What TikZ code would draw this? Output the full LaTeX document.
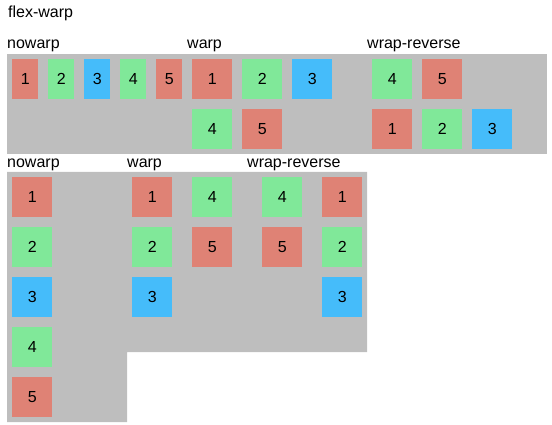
\documentclass[tikz,border=0pt]{standalone}
\usepackage{fontspec}
\setmainfont{Liberation Sans}
\definecolor{boxred}{RGB}{223,130,117}
\definecolor{boxgreen}{RGB}{128,232,153}
\definecolor{boxblue}{RGB}{69,188,250}
\definecolor{panelgray}{RGB}{190,190,190}

\tikzset{
  item/.style={fill=#1, minimum width=40pt, minimum height=40pt, inner sep=0pt,
    anchor=north west, font=\fontsize{16}{16}\selectfont},
  caption/.style={anchor=base west, inner sep=0pt, font=\fontsize{16}{16}\selectfont},
}

\begin{document}
\begin{tikzpicture}[x=1pt,y=-1pt]
  \useasboundingbox (0,0) rectangle (552,425);

  % Gray containers
  \fill[panelgray] (7,54) rectangle (547,154);
  \fill[panelgray] (7,172) -- (367,172) -- (367,352) -- (127,352)
    -- (127,422) -- (7,422) -- cycle;

  % Titles
  \node[caption] (title) at (8,17.5) {flex-warp};
  \node[caption] (rno) at (7,49) {nowarp};
  \node[caption] (rwa) at (187,49) {warp};
  \node[caption] (rre) at (367,49) {wrap-reverse};
  \node[caption] (cno) at (7,167.5) {nowarp};
  \node[caption] (cwa) at (127,167.5) {warp};
  \node[caption] (cre) at (247,167.5) {wrap-reverse};

  % Row direction, nowrap (items shrink)
  \foreach \n/\c [count=\i from 0] in {1/boxred,2/boxgreen,3/boxblue,4/boxgreen,5/boxred}
    \node[item=\c, minimum width=26pt] (rno\n) at ({12+36*\i},59) {\n};

  % Row direction, wrap
  \foreach \n/\x/\y/\c in {1/192/59/boxred,2/242/59/boxgreen,3/292/59/boxblue,
                          4/192/109/boxgreen,5/242/109/boxred}
    \node[item=\c] (rwa\n) at (\x,\y) {\n};

  % Row direction, wrap-reverse
  \foreach \n/\x/\y/\c in {4/372/59/boxgreen,5/422/59/boxred,
                          1/372/109/boxred,2/422/109/boxgreen,3/472/109/boxblue}
    \node[item=\c] (rre\n) at (\x,\y) {\n};

  % Column direction, nowrap
  \foreach \n/\c [count=\i from 0] in {1/boxred,2/boxgreen,3/boxblue,4/boxgreen,5/boxred}
    \node[item=\c] (cno\n) at (12,{177+50*\i}) {\n};

  % Column direction, wrap
  \foreach \n/\x/\y/\c in {1/132/177/boxred,2/132/227/boxgreen,3/132/277/boxblue,
                          4/192/177/boxgreen,5/192/227/boxred}
    \node[item=\c] (cwa\n) at (\x,\y) {\n};

  % Column direction, wrap-reverse
  \foreach \n/\x/\y/\c in {1/322/177/boxred,2/322/227/boxgreen,3/322/277/boxblue,
                          4/262/177/boxgreen,5/262/227/boxred}
    \node[item=\c] (cre\n) at (\x,\y) {\n};
\end{tikzpicture}
\end{document}
